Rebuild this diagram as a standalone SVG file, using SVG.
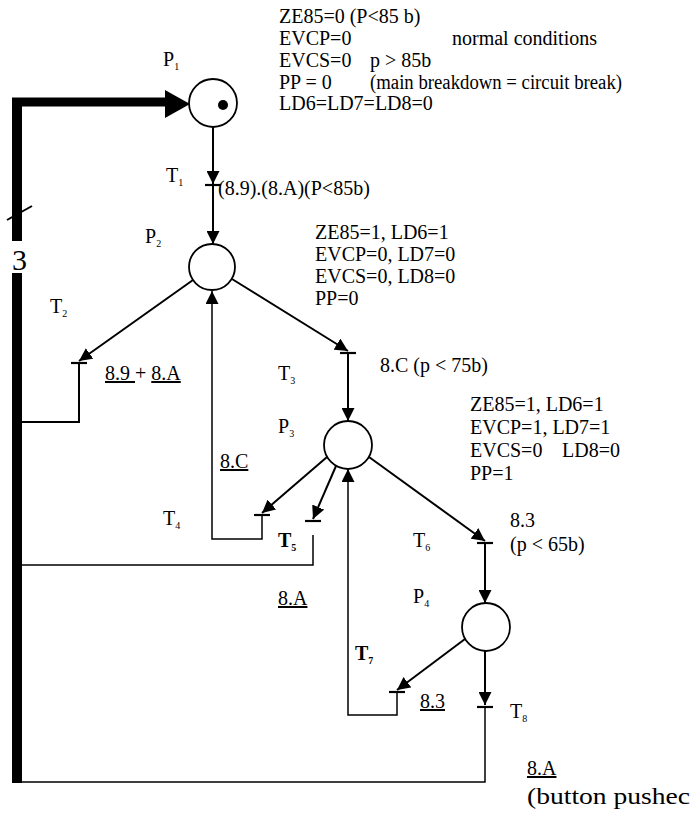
<svg xmlns="http://www.w3.org/2000/svg" width="692" height="814" viewBox="0 0 692 814">
<defs>
<marker id="ah" viewBox="0 0 12 12" refX="12" refY="6" markerWidth="13" markerHeight="13" markerUnits="userSpaceOnUse" orient="auto">
<path d="M0,0 L12,6 L0,12 Z" fill="#000"/>
</marker>
</defs>
<style>
text{font-family:"Liberation Serif","Times New Roman",serif;font-size:20px;fill:#000}
.sub{font-size:10px}
.u{text-decoration:underline}
.b{font-weight:bold}
.pl{fill:#fff;stroke:#000;stroke-width:1.8}
.arc{fill:none;stroke:#000;stroke-width:2}
.thin{fill:none;stroke:#000;stroke-width:1.5}
.bar{stroke:#000;stroke-width:2.2}
</style>
<rect width="692" height="814" fill="#fff"/>

<g id="connectors">
<path d="M17,98 V241 M17,273 V783" stroke="#000" stroke-width="10" fill="none"/>
<path d="M12,102 H168" stroke="#000" stroke-width="9" fill="none"/>
<polygon points="165,90 190,104 165,118" fill="#000"/>
<line x1="7" y1="220" x2="32" y2="206" stroke="#000" stroke-width="2"/>
<line class="arc" x1="213" y1="127" x2="213" y2="184" marker-end="url(#ah)"/>
<line class="arc" x1="213" y1="185" x2="213" y2="244" marker-end="url(#ah)"/>
<line class="arc" x1="193" y1="280" x2="79" y2="361" marker-end="url(#ah)"/>
<path class="arc" d="M79,363 V422 H22"/>
<line class="arc" x1="232" y1="279" x2="348" y2="351" marker-end="url(#ah)"/>
<line class="arc" x1="348" y1="353" x2="348" y2="421" marker-end="url(#ah)"/>
<line class="arc" x1="327" y1="457" x2="262" y2="513" marker-end="url(#ah)"/>
<path class="thin" d="M262,515 V539 H212 V291" marker-end="url(#ah)"/>
<line class="arc" x1="336" y1="466" x2="313" y2="519" marker-end="url(#ah)"/>
<path class="thin" d="M313,535 V565 H22"/>
<line class="arc" x1="369" y1="457" x2="485" y2="541" marker-end="url(#ah)"/>
<line class="arc" x1="485" y1="543" x2="485" y2="603" marker-end="url(#ah)"/>
<line class="arc" x1="465" y1="639" x2="397" y2="690" marker-end="url(#ah)"/>
<path class="thin" d="M397,692 V715 H348 V469" marker-end="url(#ah)"/>
<line class="arc" x1="485" y1="651" x2="485" y2="705" marker-end="url(#ah)"/>
<path class="thin" d="M485,707 V782 H22"/>
</g>

<g id="P1">
<circle class="pl" cx="213" cy="103" r="24"/>
<circle cx="223" cy="105" r="5" fill="#000"/>
<text x="163" y="66">P<tspan class="sub" dy="4">1</tspan></text>
</g>
<g id="T1">
<line class="bar" x1="205" y1="185" x2="221" y2="185"/>
<text x="166" y="182">T<tspan class="sub" dy="4">1</tspan></text>
<text x="218" y="195">(8.9).(8.A)(P&lt;85b)</text>
</g>
<g id="P2">
<circle class="pl" cx="212" cy="267" r="23"/>
<text x="145" y="243">P<tspan class="sub" dy="4">2</tspan></text>
</g>
<g id="T2">
<line class="bar" x1="71" y1="363" x2="87" y2="363"/>
<text x="50" y="313">T<tspan class="sub" dy="4">2</tspan></text>
<text x="105" y="380"><tspan class="u">8.9 </tspan>+ <tspan class="u">8.A</tspan></text>
</g>
<g id="T3">
<line class="bar" x1="340" y1="353" x2="356" y2="353"/>
<text x="278" y="380">T<tspan class="sub" dy="4">3</tspan></text>
<text x="380" y="372">8.C (p &lt; 75b)</text>
</g>
<g id="P3">
<circle class="pl" cx="348" cy="445" r="24"/>
<text x="278" y="433">P<tspan class="sub" dy="4">3</tspan></text>
</g>
<g id="T4">
<line class="bar" x1="254" y1="515" x2="270" y2="515"/>
<text x="163" y="525">T<tspan class="sub" dy="4">4</tspan></text>
<text class="u" x="220" y="468">8.C</text>
</g>
<g id="T5">
<line class="bar" x1="305" y1="521" x2="321" y2="521"/>
<text class="b" x="278" y="547">T<tspan class="sub" dy="4">5</tspan></text>
<text class="u" x="278" y="605">8.A</text>
</g>
<g id="T6">
<line class="bar" x1="477" y1="543" x2="493" y2="543"/>
<text x="413" y="547">T<tspan class="sub" dy="4">6</tspan></text>
<text x="510" y="527">8.3</text>
<text x="510" y="551">(p &lt; 65b)</text>
</g>
<g id="P4">
<circle class="pl" cx="486" cy="627" r="24"/>
<text x="413" y="603">P<tspan class="sub" dy="4">4</tspan></text>
</g>
<g id="T7">
<line class="bar" x1="389" y1="692" x2="405" y2="692"/>
<text class="b" x="355" y="660">T<tspan class="sub" dy="4">7</tspan></text>
<text class="u" x="420" y="708">8.3</text>
</g>
<g id="T8">
<line class="bar" x1="477" y1="707" x2="493" y2="707"/>
<text x="510" y="718">T<tspan class="sub" dy="4">8</tspan></text>
<text class="u" x="527" y="775">8.A</text>
<text x="527" y="804" style="font-size:24px" textLength="163" lengthAdjust="spacingAndGlyphs">(button pushec</text>
</g>

<g id="label-3">
<text x="12" y="270" style="font-size:30px">3</text>
</g>

<g id="state-P1">
<text x="279" y="23">ZE85=0 (P&lt;85 b)</text>
<text x="279" y="45">EVCP=0</text>
<text x="452" y="45">normal conditions</text>
<text x="279" y="67">EVCS=0</text>
<text x="370" y="67">p &gt; 85b</text>
<text x="279" y="89">PP = 0</text>
<text x="370" y="89" textLength="252" lengthAdjust="spacingAndGlyphs">(main breakdown = circuit break)</text>
<text x="279" y="110">LD6=LD7=LD8=0</text>
</g>
<g id="state-P2">
<text x="315" y="239">ZE85=1, LD6=1</text>
<text x="315" y="261">EVCP=0, LD7=0</text>
<text x="315" y="283">EVCS=0, LD8=0</text>
<text x="315" y="305">PP=0</text>
</g>
<g id="state-P3">
<text x="470" y="411">ZE85=1, LD6=1</text>
<text x="470" y="434">EVCP=1, LD7=1</text>
<text x="470" y="457">EVCS=0</text>
<text x="562" y="457">LD8=0</text>
<text x="470" y="480">PP=1</text>
</g>
</svg>
